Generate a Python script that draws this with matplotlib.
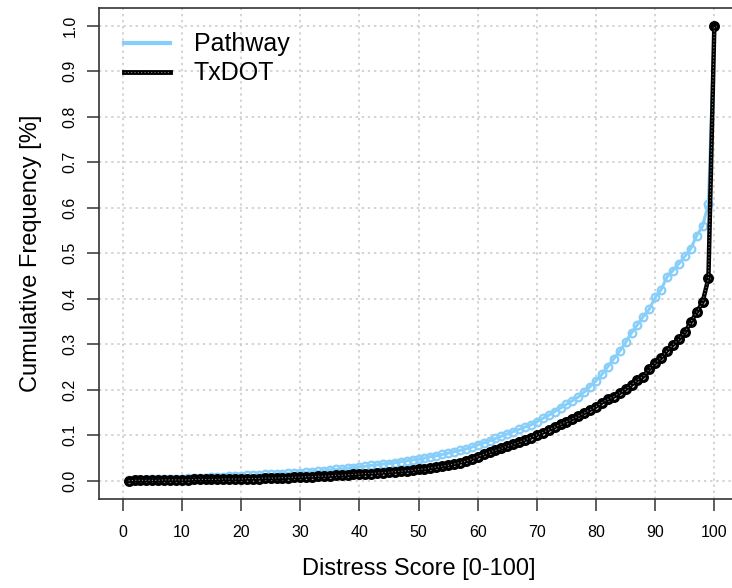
import numpy as np
import matplotlib
matplotlib.use('Agg')
import matplotlib.pyplot as plt
from matplotlib.lines import Line2D

plt.rcParams['font.family'] = ['Liberation Sans', 'DejaVu Sans']

# distress score bins
score = np.arange(1, 101)

# cumulative frequency, Pathway data
pathway = [
    0.001, 0.001, 0.002, 0.002, 0.003, 0.003, 0.004, 0.004, 0.005, 0.005,
    0.006, 0.006, 0.007, 0.007, 0.008, 0.008, 0.009, 0.010, 0.010, 0.011,
    0.012, 0.012, 0.013, 0.014, 0.014, 0.015, 0.016, 0.017, 0.017, 0.018,
    0.019, 0.020, 0.021, 0.022, 0.024, 0.025, 0.026, 0.028, 0.029, 0.031,
    0.032, 0.034, 0.035, 0.037, 0.038, 0.040, 0.042, 0.044, 0.046, 0.048,
    0.050, 0.053, 0.055, 0.058, 0.061, 0.064, 0.067, 0.070, 0.074, 0.079,
    0.083, 0.088, 0.093, 0.098, 0.103, 0.108, 0.113, 0.118, 0.123, 0.130,
    0.137, 0.144, 0.152, 0.160, 0.168, 0.176, 0.184, 0.195, 0.207, 0.220,
    0.234, 0.251, 0.268, 0.285, 0.304, 0.325, 0.343, 0.361, 0.377, 0.403,
    0.420, 0.448, 0.462, 0.477, 0.493, 0.510, 0.538, 0.559, 0.609, 1.000,
]

# cumulative frequency, TxDOT data
txdot = [
    0.000, 0.001, 0.001, 0.001, 0.001, 0.001, 0.002, 0.002, 0.002, 0.002,
    0.002, 0.003, 0.003, 0.003, 0.003, 0.003, 0.004, 0.004, 0.004, 0.004,
    0.005, 0.005, 0.005, 0.006, 0.006, 0.006, 0.007, 0.007, 0.008, 0.008,
    0.009, 0.009, 0.010, 0.010, 0.011, 0.012, 0.012, 0.013, 0.014, 0.015,
    0.016, 0.016, 0.017, 0.018, 0.019, 0.020, 0.021, 0.022, 0.023, 0.025,
    0.026, 0.028, 0.030, 0.032, 0.034, 0.037, 0.040, 0.043, 0.048, 0.053,
    0.058, 0.063, 0.067, 0.071, 0.076, 0.080, 0.085, 0.090, 0.095, 0.101,
    0.106, 0.112, 0.118, 0.124, 0.130, 0.136, 0.142, 0.149, 0.156, 0.163,
    0.172, 0.179, 0.185, 0.193, 0.201, 0.211, 0.222, 0.229, 0.246, 0.259,
    0.270, 0.286, 0.299, 0.311, 0.326, 0.348, 0.370, 0.392, 0.445, 1.000,
]

xticks = np.arange(0, 101, 10)
yticks = np.round(np.arange(0, 1.01, 0.1), 1)

blue = '#87CEFA'
dots = dict(color='#8A8A8A', lw=0.8, linestyle=(0, (1, 2)))

fig = plt.figure(figsize=(7.32, 5.88), dpi=100)
ax = fig.add_axes([99 / 732, 1 - 499 / 588, 639 / 732, 491.5 / 588])
ax.set_xlim(-4, 104)
ax.set_ylim(-0.04, 1.04)

# R-style dotted grid under the curves
ax.set_xticks(xticks)
ax.set_yticks(yticks)
ax.grid(True, color='#C8C8C8', linestyle=(0, (1.5, 2.5)), linewidth=1.1)
ax.set_axisbelow(True)

ax.plot(score, pathway, color=blue, lw=2.2, marker='o', ms=5.5,
        mfc='none', mec=blue, mew=1.6, zorder=3)
ax.plot(score, txdot, color='black', lw=3.2, marker='o', ms=5.5,
        mfc='none', mec='black', mew=2.4, zorder=4)
# thin dotted trace running inside the black line
ax.plot(score, txdot, zorder=5, **dots)

ax.set_xticklabels([str(v) for v in xticks])
ax.set_yticklabels(['%.1f' % v for v in yticks], rotation=90, va='center')
ax.tick_params(direction='out', length=8.5, width=1.1, color='#333333',
               labelsize=11.5, pad=10)
ax.tick_params(axis='y', pad=7)
for sp in ax.spines.values():
    sp.set_color('#333333')
    sp.set_linewidth(1.2)

ax.set_xlabel('Distress Score [0-100]', fontsize=17, labelpad=13)
ax.set_ylabel('Cumulative Frequency [%]', fontsize=17, labelpad=15)

handles = [
    Line2D([], [], color=blue, lw=3),
    (Line2D([], [], color='black', lw=3.5), Line2D([], [], **dots)),
]
ax.legend(handles, ['Pathway', 'TxDOT'], loc='upper left',
          bbox_to_anchor=(0.0, 1.0), frameon=False, fontsize=18,
          handlelength=1.85, handletextpad=0.95, labelspacing=0.2,
          borderaxespad=0.6)

fig.savefig('out.png', dpi=100)
